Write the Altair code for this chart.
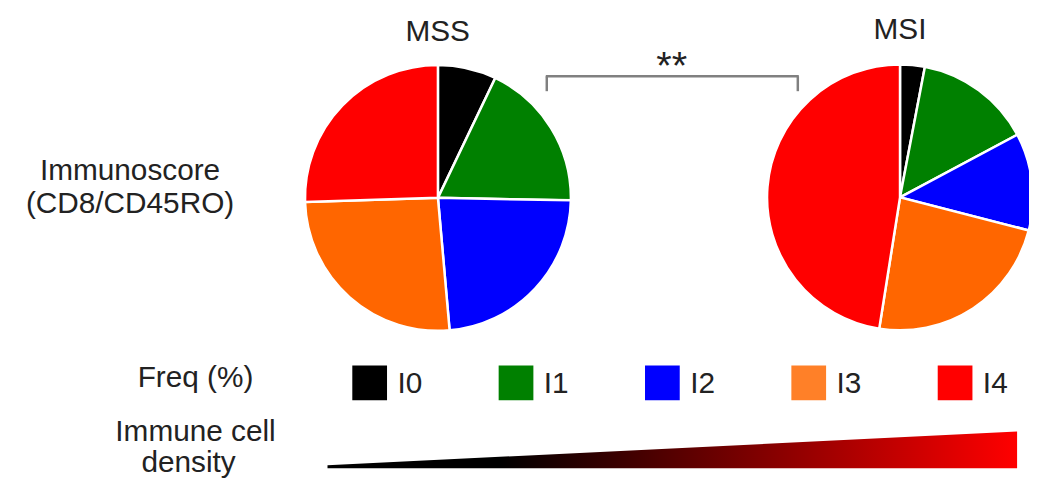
import altair as alt
import pandas as pd

# ---- data ----
cats = ["I0", "I1", "I2", "I3", "I4"]
groups = ["MSS", "MSI"]
mss_freq = [7.1, 18.2, 23.3, 25.9, 25.5]
msi_freq = [3.0, 14.2, 11.8, 23.5, 47.5]
pie_colors = ["#000000", "#008000", "#0000FF", "#FF6600", "#FF0000"]
legend_colors = ["#000000", "#008000", "#0000FF", "#FF8028", "#FF0000"]
density_level = [0.0, 1.0]
wedge_top = [0.08, 1.0]
wedge_base = [0.0, 0.0]

rows = []
for g, vals in zip(groups, [mss_freq, msi_freq]):
    for i, (c, v) in enumerate(zip(cats, vals)):
        rows.append({"group": g, "cat": c, "freq": v, "order": i})
pie_df = pd.DataFrame(rows)
leg_df = pd.DataFrame({"cat": cats})
wedge_df = pd.DataFrame({"d": density_level, "top": wedge_top, "base": wedge_base})
one = pd.DataFrame({"k": [0]})

OFF = 8
def px(v):
    return v - OFF

FONT = "Liberation Sans"
TXT = "#222222"

def text(t, x, y, size=30, align="center"):
    return alt.Chart(one).mark_text(
        text=t, font=FONT, fontSize=size, color=TXT, align=align, baseline="alphabetic"
    ).encode(x=alt.value(px(x)), y=alt.value(px(y)))

def pie(group, cx, cy):
    return alt.Chart(pie_df).transform_filter(alt.datum.group == group).mark_arc(
        outerRadius=134, stroke="white", strokeWidth=2.5, clip=True
    ).encode(
        theta=alt.Theta("freq:Q", stack=True),
        color=alt.Color("cat:N", scale=alt.Scale(domain=cats, range=pie_colors), legend=None),
        order=alt.Order("order:Q"),
        x=alt.value(px(cx)),
        y=alt.value(px(cy)),
    )

leg_x = alt.X("cat:N", scale=alt.Scale(domain=cats, range=[px(372.5), px(962.5)], padding=0), axis=None)

leg_sq = alt.Chart(leg_df).mark_square(size=1225, filled=True, opacity=1).encode(
    x=leg_x,
    y=alt.value(px(384)),
    color=alt.Color("cat:N", scale=alt.Scale(domain=cats, range=legend_colors), legend=None),
)
leg_lbl = alt.Chart(leg_df).mark_text(
    font=FONT, fontSize=30, color=TXT, align="left", baseline="alphabetic", dx=28
).encode(x=leg_x, y=alt.value(px(394)), text="cat:N")

grad = alt.Gradient(
    gradient="linear",
    stops=[
        alt.GradientStop(color="#000000", offset=0),
        alt.GradientStop(color="#000000", offset=0.25),
        alt.GradientStop(color="#FF0000", offset=1),
    ],
    x1=0, x2=1, y1=0, y2=0,
)
wedge = alt.Chart(wedge_df).mark_area(color=grad, orient="vertical").encode(
    x=alt.X("d:Q", scale=alt.Scale(domain=[0, 1], range=[px(330), px(1025)]), axis=None),
    y=alt.Y("top:Q", scale=alt.Scale(domain=[0, 1], range=[px(470), px(433)]), axis=None),
    y2="base:Q",
)

BR = "#808080"
br_h = alt.Chart(one).mark_rule(color=BR, strokeWidth=2.5).encode(
    x=alt.value(px(550)), x2=alt.value(px(805)), y=alt.value(px(75)))
br_l = alt.Chart(one).mark_rule(color=BR, strokeWidth=2.5).encode(
    x=alt.value(px(551)), y=alt.value(px(75)), y2=alt.value(px(90)))
br_r = alt.Chart(one).mark_rule(color=BR, strokeWidth=2.5).encode(
    x=alt.value(px(804)), y=alt.value(px(75)), y2=alt.value(px(90)))

chart = alt.layer(
    pie("MSS", 441.3, 197.5),
    pie("MSI", 907, 197),
    text("MSS", 441, 39),
    text("MSI", 907, 37),
    text("Immunoscore", 131, 180, size=30),
    text("(CD8/CD45RO)", 131, 213, size=30),
    text("**", 677, 78, size=40),
    br_h, br_l, br_r,
    text("Freq (%)", 197, 388),
    leg_sq, leg_lbl,
    text("Immune cell", 197, 443),
    text("density", 190, 474),
    wedge,
).resolve_scale(
    x="independent", y="independent", theta="independent", color="independent"
).properties(
    width=1029, height=471, padding=0, autosize="none"
).configure_view(stroke=None)

chart.save("out.html", embed_options={"renderer": "svg", "actions": False})
